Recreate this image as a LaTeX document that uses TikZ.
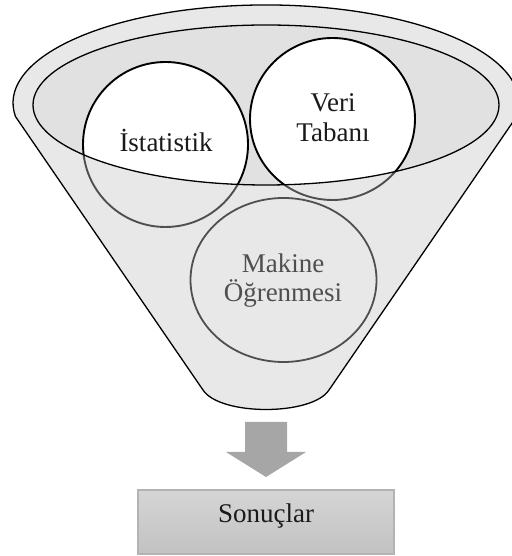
\documentclass[tikz,border=0pt]{standalone}
\usepackage{fontspec}
\setmainfont{Liberation Serif}
\definecolor{innergray}{HTML}{E1E1E1}
\definecolor{bodyc}{HTML}{C6C6C6}
\definecolor{arrowc}{HTML}{A6A6A6}
\definecolor{boxtop}{HTML}{D5D5D5}
\definecolor{boxbot}{HTML}{C2C2C2}
\definecolor{boxline}{HTML}{B3B3B3}
\definecolor{txt}{HTML}{1A1A1A}
\begin{document}
\begin{tikzpicture}[x=1pt,y=1pt,
  lbl/.style={font=\fontsize{27}{29.5}\selectfont, inner sep=0pt, anchor=base, text=txt},
  ring/.style={line width=1.9pt, fill=white, draw=black},
  funnelpath/.style={line width=1.3pt, draw=black}]
\useasboundingbox (0,0) rectangle (511,556);
% opening of the funnel
\fill[innergray] (266,451) ellipse [x radius=233, y radius=80];
% circles
\draw[ring] (165.5,411.5) circle (82.5);
\draw[ring] (332.5,437) ellipse [x radius=82.5, y radius=81];
\draw[ring, line width=1.8pt] (283.5,276) ellipse [x radius=93, y radius=82];
% labels
\node[lbl] (ist) at (166,404) {İstatistik};
\node[lbl] (veri) at (333,444) {Veri};
\node[lbl] (taban) at (333,414) {Tabanı};
\node[lbl, text=black] (mak) at (283,283) {Makine};
\node[lbl, text=black] (ogr) at (283,254) {Öğrenmesi};
% funnel body (semi-transparent)
\path[fill=bodyc, fill opacity=0.40, even odd rule]
  (15.5,439.4) arc[start angle=188, end angle=-8, x radius=253, y radius=98]
  -- (329,166) .. controls (312,140) and (220,140) .. (203,166) -- cycle
  (266,451) ellipse [x radius=233, y radius=80];
\draw[funnelpath]
  (15.5,439.4) arc[start angle=188, end angle=-8, x radius=253, y radius=98]
  -- (329,166) .. controls (312,140) and (220,140) .. (203,166) -- cycle;
\draw[funnelpath] (266,451) ellipse [x radius=233, y radius=80];
% block arrow
\fill[arrowc] (245,134) -- (245,104) -- (226,104) -- (266,79) -- (306,104) -- (287,104) -- (287,134) -- cycle;
% result box
\node[draw=boxline, line width=1.5pt, top color=boxtop, bottom color=boxbot,
      minimum width=256, minimum height=64, inner sep=0pt] (res) at (266,34) {};
\node[lbl] (sonuc) at (266,33) {Sonuçlar};
\end{tikzpicture}
\end{document}
